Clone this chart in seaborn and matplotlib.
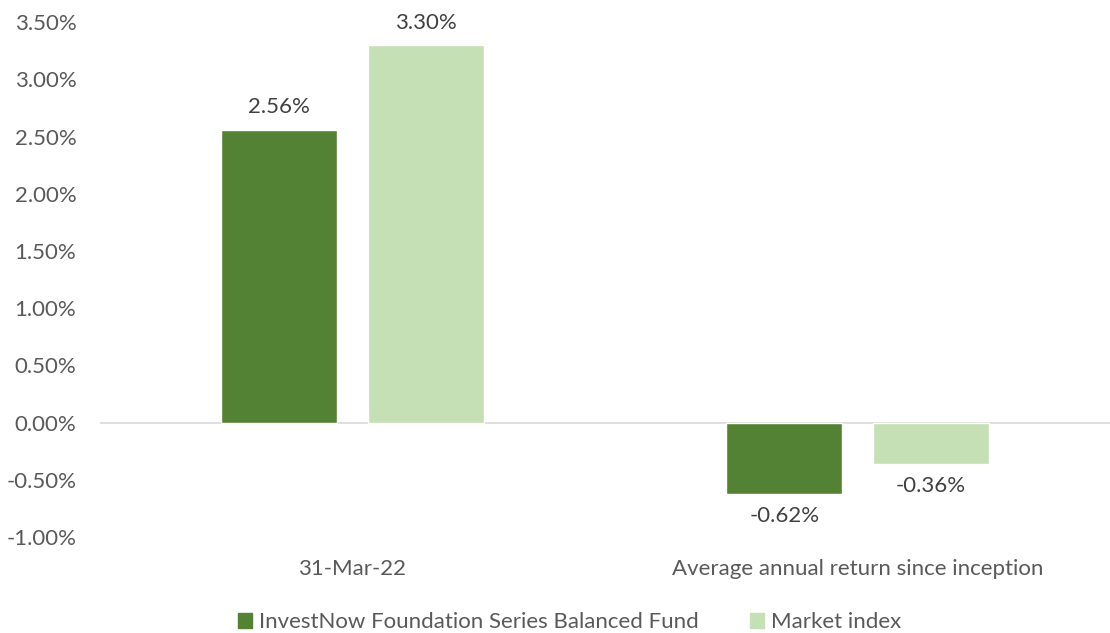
import pandas as pd
import seaborn as sns
import matplotlib.pyplot as plt
from matplotlib.patches import Patch

categories = ["31-Mar-22", "Average annual return since inception"]
fund_name = "InvestNow Foundation Series Balanced Fund"
index_name = "Market index"
fund_values = [2.56, -0.62]
index_values = [3.30, -0.36]

df = pd.DataFrame({
    "period": categories * 2,
    "series": [fund_name] * 2 + [index_name] * 2,
    "value": fund_values + index_values,
})

sns.set_style("white")
plt.rcParams["font.family"] = ["Lato", "DejaVu Sans"]
text_color = "#595959"
palette = {fund_name: "#548235", index_name: "#C5E0B4"}

fig = plt.figure(figsize=(11.1, 6.33), dpi=100)
ax = fig.add_axes([0.09, 0.1517, 0.91, 0.8133])

sns.barplot(data=df, x="period", y="value", hue="series", order=categories,
            hue_order=[fund_name, index_name], palette=palette,
            width=0.58, gap=0.207, saturation=1, legend=False, ax=ax)

for container in ax.containers:
    labels = [f"{v:.2f}%" for v in container.datavalues]
    ax.bar_label(container, labels=labels, padding=9, fontsize=16, color="#404040")

ax.set_xlim(-0.5, 1.5)
ax.set_ylim(-1.0, 3.5)
ax.set_yticks([-1.0 + 0.5 * i for i in range(10)])
ax.set_yticklabels([f"{-1.0 + 0.5 * i:.2f}%" for i in range(10)])
ax.axhline(0, color="#d9d9d9", lw=1.2, zorder=0)
for s in ax.spines.values():
    s.set_visible(False)
ax.set_xlabel("")
ax.set_ylabel("")
ax.tick_params(axis="both", length=0, labelsize=16, labelcolor=text_color)
ax.tick_params(axis="x", pad=16)
ax.tick_params(axis="y", pad=17)

handles = [Patch(color=palette[fund_name], label=fund_name),
           Patch(color=palette[index_name], label=index_name)]
fig.legend(handles=handles, loc="center", bbox_to_anchor=(0.513, 0.017), ncol=2,
           frameon=False, fontsize=16, labelcolor=text_color, handlelength=0.65,
           handleheight=0.65, handletextpad=0.3, columnspacing=2.3)

fig.savefig("out.png", dpi=100)
